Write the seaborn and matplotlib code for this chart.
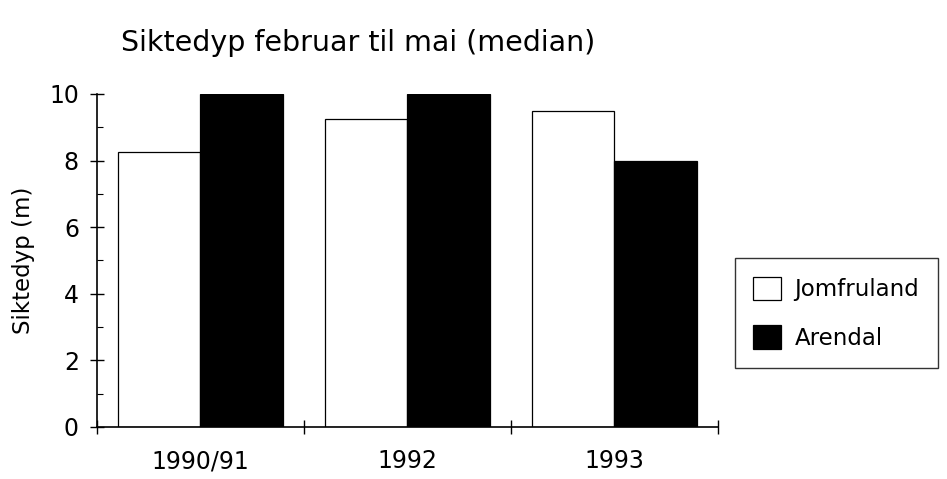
import matplotlib
matplotlib.use("Agg")
import matplotlib.pyplot as plt
import seaborn as sns
import pandas as pd
from matplotlib.ticker import FixedLocator, MultipleLocator

# Median Secchi depth, February to May
periods = ["1990/91", "1992", "1993"]
stations = ["Jomfruland", "Arendal"]
jomfruland = [8.25, 9.25, 9.5]
arendal = [10.0, 10.0, 8.0]

df = pd.DataFrame({
    "periode": periods * 2,
    "stasjon": [stations[0]] * 3 + [stations[1]] * 3,
    "siktedyp": jomfruland + arendal,
})

sns.set_theme(style="white")
plt.rcParams["font.family"] = ["DejaVu Sans"]
plt.rcParams["text.color"] = "black"
plt.rcParams["axes.labelcolor"] = "black"
plt.rcParams["xtick.color"] = "black"
plt.rcParams["ytick.color"] = "black"

fig = plt.figure(figsize=(9.47, 4.79), dpi=100)
ax = fig.add_axes([0.1024, 0.1086, 0.6556, 0.6954])

sns.barplot(data=df, x="periode", y="siktedyp", hue="stasjon",
            palette=["white", "black"], edgecolor="black", linewidth=0.9,
            width=0.8, ax=ax, legend=True)

ax.set_xlim(-0.5, 2.5)
ax.set_ylim(0, 10)
ax.set_yticks([0, 2, 4, 6, 8, 10])
ax.yaxis.set_minor_locator(MultipleLocator(1))
ax.xaxis.set_minor_locator(FixedLocator([-0.5, 0.5, 1.5, 2.5]))

ax.tick_params(axis="y", which="major", direction="inout", length=10, width=1,
               labelsize=17, pad=8, left=True)
ax.tick_params(axis="y", which="minor", direction="in", length=4, width=0.8, left=True)
ax.tick_params(axis="x", which="major", length=0, labelsize=17, pad=16)
ax.tick_params(axis="x", which="minor", direction="inout", length=10, width=1, bottom=True)

for s in ["top", "right"]:
    ax.spines[s].set_visible(False)
for s in ["left", "bottom"]:
    ax.spines[s].set_color("black")
    ax.spines[s].set_linewidth(1.2)

ax.set_xlabel("")
ax.set_ylabel("Siktedyp (m)", fontsize=16.5, labelpad=10)

fig.text(0.378, 0.91, "Siktedyp februar til mai (median)", ha="center", va="center",
         fontsize=20.5)

handles, labels = ax.get_legend_handles_labels()
ax.legend(handles, labels, loc="center left", bbox_to_anchor=(0.776, 0.346),
          bbox_transform=fig.transFigure, frameon=True, fancybox=False,
          edgecolor="black", fontsize=16.5, handlelength=1.2, handleheight=1.2,
          borderpad=0.8, labelspacing=1.05, handletextpad=0.6, borderaxespad=0)
leg = ax.get_legend()
leg.get_frame().set_linewidth(1.0)

fig.savefig("out.png", dpi=100, facecolor="white")
